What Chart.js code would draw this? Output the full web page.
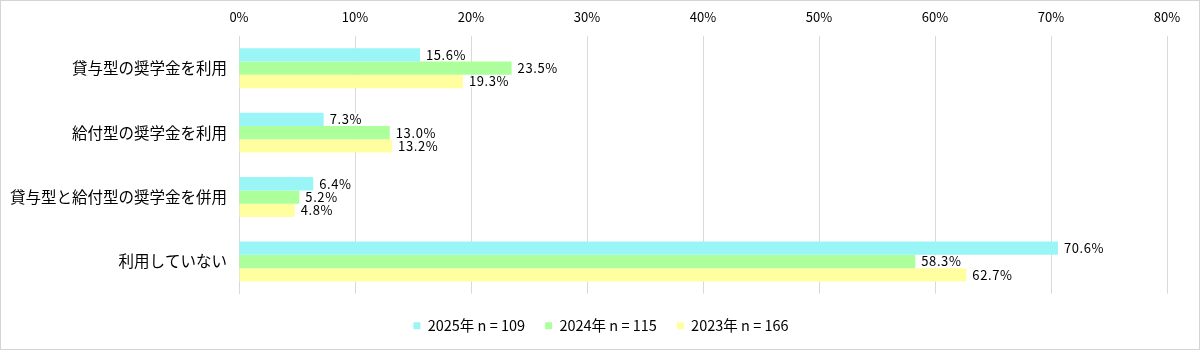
<!DOCTYPE html>
<html lang="ja">
<head>
<meta charset="utf-8">
<script src="https://cdn.jsdelivr.net/npm/chart.js@4"></script>
<style>
  body { margin: 0; background: #fff; }
  .wrap { width: 1200px; height: 350px; box-sizing: border-box; border: 1px solid #d4d4d4; background: #fff; }
  canvas { display: block; }
</style>
</head>
<body>
<div class="wrap"><canvas id="scholarChart" width="1198" height="348"></canvas></div>
<script>
// 奨学金の利用状況（年度別）
const categories = ['貸与型の奨学金を利用', '給付型の奨学金を利用', '貸与型と給付型の奨学金を併用', '利用していない'];
const seriesLabels = ['2025年 n = 109', '2024年 n = 115', '2023年 n = 166'];
const values2025 = [15.6, 7.3, 6.4, 70.6];
const values2024 = [23.5, 13.0, 5.2, 58.3];
const values2023 = [19.3, 13.2, 4.8, 62.7];
const xTicks = [0, 10, 20, 30, 40, 50, 60, 70, 80];

const colors = ['#9af5f7', '#adff9b', '#ffffa0'];
const fontFamily = '"Noto Sans CJK JP", "Noto Sans", sans-serif';

// バーの右端に値ラベルを白背景つきで描く
const valueLabels = {
    id: 'valueLabels',
    afterDatasetsDraw(chart) {
        const ctx = chart.ctx;
        ctx.save();
        ctx.font = '13px ' + fontFamily;
        ctx.letterSpacing = '0.6px';
        ctx.textBaseline = 'middle';
        chart.data.datasets.forEach((ds, i) => {
            chart.getDatasetMeta(i).data.forEach((bar, j) => {
                const text = ds.data[j].toFixed(1) + '%';
                const w = ctx.measureText(text).width;
                const x = bar.x + 6;
                ctx.fillStyle = '#fff';
                ctx.fillRect(x - 2, bar.y - 6, w + 4, 12);
                ctx.fillStyle = '#000';
                ctx.fillText(text, x, bar.y);
            });
        });
        ctx.restore();
    }
};

// 凡例を少し右寄せにする（左端をずらして中央揃えの基準を変える）
const legendShift = {
    id: 'legendShift',
    afterLayout(chart) {
        chart.legend.left = 34;
    }
};

const datasets = [values2025, values2024, values2023].map((d, i) => ({
    label: seriesLabels[i],
    data: d,
    backgroundColor: colors[i],
    borderWidth: 0,
    barPercentage: 1.0,
    categoryPercentage: 0.62
}));

new Chart(document.getElementById('scholarChart'), {
    type: 'bar',
    data: { labels: categories, datasets: datasets },
    options: {
        indexAxis: 'y',
        responsive: false,
        animation: false,
        layout: { padding: { left: 0, right: 32, top: 0, bottom: 6 } },
        scales: {
            x: {
                position: 'top',
                min: 0,
                max: 80,
                afterBuildTicks: (s) => { s.ticks = xTicks.map(v => ({ value: v })); },
                afterFit: (s) => { s.height = 35; },
                grid: { color: '#d9d9d9', lineWidth: 1, drawTicks: false },
                border: { display: false },
                ticks: {
                    padding: 11,
                    color: '#000',
                    font: { size: 13, family: fontFamily },
                    callback: (v) => v + '%'
                }
            },
            y: {
                afterFit: (s) => { s.width = 238; },
                grid: { display: false },
                border: { display: true, color: '#d9d9d9' },
                ticks: {
                    padding: 4,
                    color: '#000',
                    font: { size: 15.5, family: fontFamily }
                }
            }
        },
        plugins: {
            legend: {
                position: 'bottom',
                // 空のタイトルで凡例の上に余白を取る
                title: { display: true, text: ' ', font: { size: 4 }, padding: 0 },
                labels: {
                    boxWidth: 7,
                    boxHeight: 7,
                    padding: 20,
                    color: '#000',
                    font: { size: 14.5, family: fontFamily }
                }
            },
            tooltip: { enabled: false }
        }
    },
    plugins: [valueLabels, legendShift]
});
</script>
</body>
</html>
